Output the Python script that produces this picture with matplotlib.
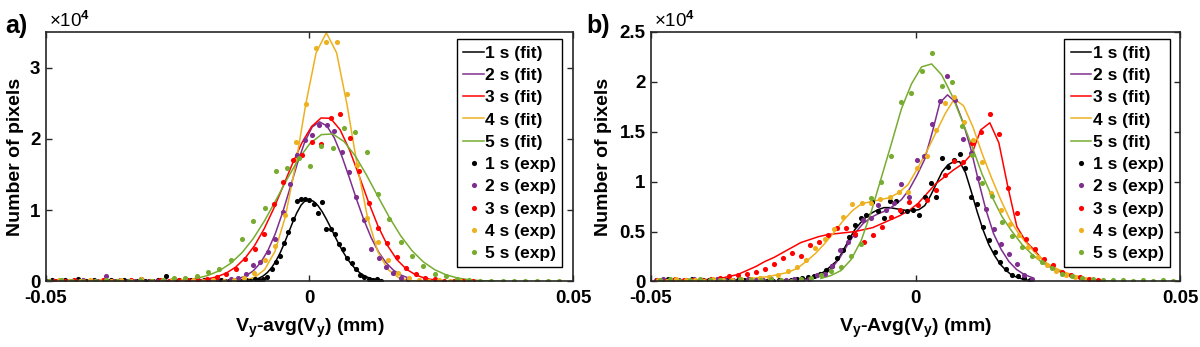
import numpy as np
import matplotlib
matplotlib.use('Agg')
import matplotlib.pyplot as plt
from matplotlib.ticker import FormatStrFormatter

plt.rcParams['font.family'] = ['Liberation Sans', 'DejaVu Sans']
plt.rcParams['font.weight'] = 'bold'
plt.rcParams['mathtext.fontset'] = 'custom'
plt.rcParams['mathtext.rm'] = 'Liberation Sans'
plt.rcParams['mathtext.bf'] = 'Liberation Sans:bold'
plt.rcParams['mathtext.it'] = 'Liberation Sans:italic'

# counts are in units of 1e4 pixels, bin centres in units of 1e-3 mm
times = ['1 s', '2 s', '3 s', '4 s', '5 s']
colors = ['#000000', '#7E2F8E', '#FF0000', '#EDB120', '#77AC30']

# ---- panel a) ----
a_step = [0.8, 1.4, 1.8, 1.95, 2.15]
a_exp_x0 = [-49.6, -48.5, -48.2, -49.45, -49.35]
a_fit_x0 = [-12.8, -19.1, -21.2, -14.35, -30.0]

a_black_exp = [0.01, 0.02, 0.01, 0.00, 0.02, 0.01, 0.01, 0.03, 0.01, 0.00,
               0.01, 0.02, 0.01, 0.01, 0.00, 0.02, 0.01, 0.01, 0.02, 0.00,
               0.01, 0.01, 0.03, 0.01, 0.00, 0.01, 0.02, 0.01, 0.07, 0.01,
               0.00, 0.02, 0.01, 0.01, 0.02, 0.00, 0.01, 0.02, 0.01, 0.00,
               0.01, 0.02, 0.01, 0.00, 0.02, 0.01,
               0.01, 0.02, 0.01, 0.03, 0.02, 0.04, 0.06, 0.18, 0.28, 0.36,
               0.54, 0.70, 0.88, 1.13, 1.16, 1.16, 1.15, 1.08, 0.96, 1.11,
               0.73, 0.73, 0.67, 0.52, 0.46, 0.33, 0.26, 0.18, 0.09, 0.06,
               0.04, 0.02, 0.03, 0.01]
a_black_fit = [0.003, 0.007, 0.014, 0.026, 0.046, 0.077, 0.125, 0.192, 0.283, 0.396,
               0.531, 0.679, 0.828, 0.964, 1.071, 1.135, 1.150, 1.123, 1.065, 0.981,
               0.875, 0.759, 0.637, 0.520, 0.412, 0.316, 0.236, 0.170, 0.119, 0.081,
               0.054, 0.034, 0.021, 0.013]

a_purple_exp = [0.01, 0.02, 0.00, 0.01, 0.02, 0.01, 0.01, 0.08, 0.01, 0.02,
                0.00, 0.01, 0.02, 0.01, 0.01, 0.00, 0.02, 0.01, 0.01, 0.02, 0.01,
                0.01, 0.02, 0.01, 0.03, 0.05, 0.10, 0.23, 0.28, 0.41, 0.59,
                0.98, 1.37, 1.78, 1.99, 2.05, 2.20, 2.19, 2.11, 1.82, 1.54,
                1.19, 0.86, 0.45, 0.33, 0.20, 0.12, 0.05, 0.03]
a_purple_fit = [0.001, 0.003, 0.008, 0.018, 0.038, 0.078, 0.147, 0.261, 0.432, 0.668,
                0.967, 1.308, 1.655, 1.958, 2.166, 2.240, 2.182, 2.016, 1.767, 1.470,
                1.159, 0.868, 0.616, 0.415, 0.265, 0.161, 0.092, 0.051]

a_red_exp = [0.01, 0.00, 0.02, 0.01, 0.01, 0.02, 0.00, 0.01, 0.02, 0.01,
             0.01, 0.02, 0.01, 0.02, 0.02,
             0.02, 0.04, 0.06, 0.10, 0.18, 0.32, 0.46, 0.66, 1.09, 1.40,
             1.71, 1.77, 1.95, 1.93, 2.30, 2.35, 2.01, 1.55, 1.10, 0.75,
             0.54, 0.35, 0.19, 0.10, 0.05, 0.03, 0.01,
             0.01, 0.00, 0.01]
a_red_fit = [0.017, 0.034, 0.065, 0.117, 0.202, 0.329, 0.505, 0.739, 1.021, 1.337,
             1.659, 1.951, 2.174, 2.294, 2.289, 2.130, 1.845, 1.486, 1.114, 0.778,
             0.505, 0.305, 0.172, 0.090, 0.044, 0.020, 0.008]

a_orange_exp = [0.01, 0.02, 0.01, 0.00, 0.02, 0.01, 0.01, 0.02, 0.01, 0.03,
                0.01, 0.00, 0.02, 0.01, 0.02, 0.01, 0.02, 0.01,
                0.02, 0.05, 0.12, 0.30, 0.50, 0.93, 1.96, 2.49, 3.27, 3.36,
                3.36, 2.63, 1.63, 0.89, 0.55, 0.30, 0.12, 0.05, 0.02,
                0.01, 0.02, 0.01, 0.00, 0.01]
a_orange_fit = [0.004, 0.016, 0.056, 0.167, 0.422, 0.903, 1.632, 2.489, 3.207, 3.490,
                3.207, 2.489, 1.632, 0.903, 0.422, 0.167, 0.056, 0.016, 0.004]

a_green_exp = [0.01, 0.02, 0.01, 0.01, 0.00, 0.02, 0.01, 0.01, 0.02,
               0.01, 0.02, 0.05, 0.05, 0.08, 0.14, 0.17, 0.30, 0.60, 0.85,
               1.03, 1.55, 1.59, 1.73, 1.62, 1.90, 1.87, 2.15, 2.10, 1.81,
               1.23, 0.88, 0.55, 0.36, 0.22, 0.11, 0.07, 0.03, 0.02, 0.01,
               0.01, 0.00,
               0.01, 0.00, 0.01, 0.01, 0.00]
a_green_fit = [0.002, 0.005, 0.011, 0.023, 0.045, 0.085, 0.151, 0.255, 0.404, 0.604,
               0.855, 1.143, 1.443, 1.720, 1.937, 2.060, 2.070, 1.964, 1.760, 1.490,
               1.191, 0.900, 0.642, 0.432, 0.275, 0.166, 0.094, 0.050, 0.025, 0.012,
               0.005, 0.002]

# ---- panel b) ----
b_step = [1.1, 1.45, 1.7, 1.75, 1.9]
b_exp_x0 = [-48.9, -49.1, -48.9, -48.7, -48.3]
b_fit_x0 = [-26.9, -23.0, -48.9, -32.95, -17.9]

b_black_exp = [0.01, 0.00, 0.02, 0.01, 0.00, 0.01, 0.02, 0.00, 0.01, 0.01,
               0.00, 0.02, 0.01, 0.00, 0.01, 0.01, 0.02, 0.00, 0.01, 0.00,
               0.00, 0.01, 0.00, 0.01, 0.02, 0.03, 0.04, 0.05, 0.08, 0.12,
               0.16, 0.24, 0.32, 0.45, 0.57, 0.64, 0.67, 0.80, 0.71, 0.64,
               0.81, 0.81, 0.71, 0.71, 0.72, 0.67, 0.85, 0.99, 0.85, 1.24,
               1.15, 1.22, 1.28, 1.14, 0.85, 0.78, 0.55, 0.42, 0.30, 0.20,
               0.13, 0.07, 0.05, 0.03, 0.01]
b_black_fit = [0.00, 0.00, 0.00, 0.01, 0.01, 0.02, 0.03, 0.05, 0.07, 0.11,
               0.16, 0.21, 0.31, 0.42, 0.52, 0.59, 0.65, 0.69, 0.72, 0.74,
               0.74, 0.73, 0.72, 0.71, 0.71, 0.72, 0.76, 0.86, 0.98, 1.10,
               1.17, 1.20, 1.20, 1.09, 0.90, 0.70, 0.52, 0.37, 0.26, 0.17,
               0.11, 0.06, 0.04, 0.02, 0.01]

b_purple_exp = [0.01, 0.02, 0.00, 0.01, 0.01, 0.02, 0.01, 0.00, 0.02, 0.01,
                0.01, 0.00, 0.02, 0.01, 0.01, 0.02, 0.00, 0.01,
                0.02, 0.01, 0.02, 0.06, 0.08, 0.16, 0.32, 0.40, 0.47, 0.62,
                0.64, 0.77, 0.72, 0.79, 0.98, 0.85, 1.22, 1.26, 1.58, 1.81,
                2.06, 1.82, 1.43, 1.29, 1.04, 0.73, 0.53, 0.38, 0.28, 0.18,
                0.06, 0.02]
b_purple_fit = [0.00, 0.01, 0.02, 0.04, 0.08, 0.14, 0.24, 0.37, 0.49, 0.58,
                0.64, 0.68, 0.71, 0.76, 0.82, 0.92, 1.06, 1.22, 1.49, 1.79,
                1.87, 1.80, 1.60, 1.34, 1.02, 0.72, 0.48, 0.32, 0.20, 0.12,
                0.07, 0.04]

b_red_exp = [0.01, 0.00, 0.02, 0.01, 0.01, 0.01, 0.02, 0.03, 0.05, 0.07,
             0.08, 0.10, 0.13, 0.18, 0.24, 0.29, 0.26, 0.37, 0.40, 0.47,
             0.54, 0.54, 0.48, 0.40, 0.47, 0.55, 0.65, 0.72, 0.80, 0.77,
             0.82, 0.92, 1.07, 1.21, 1.20, 1.39, 1.50, 1.68, 1.48, 0.94,
             0.69, 0.43, 0.33, 0.23, 0.17, 0.10, 0.06, 0.04, 0.02, 0.01]
b_red_fit = [0.00, 0.00, 0.01, 0.01, 0.01, 0.02, 0.02, 0.03, 0.05, 0.07,
             0.11, 0.15, 0.20, 0.24, 0.29, 0.34, 0.39, 0.42, 0.45, 0.47,
             0.48, 0.49, 0.50, 0.52, 0.54, 0.58, 0.62, 0.66, 0.71, 0.78,
             0.88, 0.98, 1.05, 1.12, 1.18, 1.28, 1.52, 1.59, 1.39, 0.95,
             0.55, 0.40, 0.31, 0.20, 0.14, 0.09, 0.06, 0.03, 0.02, 0.01]

b_orange_exp = [0.01, 0.00, 0.02, 0.01, 0.01, 0.00, 0.02, 0.01, 0.01,
                0.02, 0.02, 0.03, 0.04, 0.06, 0.11, 0.15, 0.22, 0.34, 0.43,
                0.53, 0.65, 0.78, 0.79, 0.79, 0.83, 0.85, 0.90, 0.90, 1.14,
                1.26, 1.52, 1.79, 1.85, 1.60, 1.42, 1.20, 0.89, 0.72, 0.58,
                0.47, 0.35, 0.25, 0.17, 0.11, 0.07, 0.04, 0.02, 0.01]
b_orange_fit = [0.02, 0.03, 0.04, 0.05, 0.07, 0.09, 0.13, 0.20, 0.28, 0.38,
                0.49, 0.61, 0.71, 0.78, 0.80, 0.82, 0.84, 0.89, 0.97, 1.13,
                1.30, 1.49, 1.68, 1.83, 1.76, 1.55, 1.28, 1.04, 0.82, 0.62,
                0.47, 0.36, 0.26, 0.18, 0.13, 0.09, 0.06, 0.04, 0.02]

b_green_exp = [0.01, 0.02, 0.00, 0.01, 0.02, 0.01, 0.01, 0.00, 0.02, 0.01,
               0.01, 0.02, 0.01, 0.00, 0.02, 0.03,
               0.06, 0.11, 0.15, 0.26, 0.38, 0.84, 1.00, 1.26, 1.80, 1.89,
               2.11, 2.29, 1.96, 2.00, 1.56, 1.27, 0.99, 0.86, 0.60, 0.46,
               0.35, 0.26, 0.20, 0.14, 0.08, 0.05, 0.03, 0.02, 0.01, 0.01,
               0.01, 0.00, 0.01, 0.00, 0.01, 0.00]
b_green_fit = [0.03, 0.06, 0.11, 0.22, 0.41, 0.70, 1.04, 1.38, 1.73, 1.98,
               2.15, 2.18, 2.07, 1.87, 1.62, 1.36, 1.08, 0.85, 0.65, 0.50,
               0.37, 0.27, 0.19, 0.13, 0.09, 0.05, 0.03, 0.02, 0.01, 0.00]

a_exp = [a_black_exp, a_purple_exp, a_red_exp, a_orange_exp, a_green_exp]
a_fit = [a_black_fit, a_purple_fit, a_red_fit, a_orange_fit, a_green_fit]
b_exp = [b_black_exp, b_purple_exp, b_red_exp, b_orange_exp, b_green_exp]
b_fit = [b_black_fit, b_purple_fit, b_red_fit, b_orange_fit, b_green_fit]


def bins(x0, dx, vals):
    # bin centres in mm
    return (x0 + dx * np.arange(len(vals))) / 1000.0


fig = plt.figure(figsize=(12, 3.47), dpi=100)
ax_a = fig.add_axes([0.0383, 0.1888, 0.4392, 0.719])
ax_b = fig.add_axes([0.5425, 0.1888, 0.4412, 0.719])

panels = [
    (ax_a, a_step, a_exp_x0, a_fit_x0, a_exp, a_fit, 3.5, [0, 1, 2, 3],
     'V$_\\mathbf{y}$-avg(V$_\\mathbf{y}$) (mm)', -0.0417),
    (ax_b, b_step, b_exp_x0, b_fit_x0, b_exp, b_fit, 2.5, [0, 0.5, 1, 1.5, 2, 2.5],
     'V$_\\mathbf{y}$-Avg(V$_\\mathbf{y}$) (mm)', -0.073),
]

for ax, step, ex0, fx0, exp, fit, ytop, yt, xlab, ylx in panels:
    for i in range(5):
        ax.plot(bins(fx0[i], step[i], fit[i]), fit[i], '-', color=colors[i],
                lw=1.1, label=times[i] + ' (fit)')
    for i in range(5):
        ax.plot(bins(ex0[i], step[i], exp[i]), exp[i], 'o', color=colors[i],
                ms=3.7, mec='none', label=times[i] + ' (exp)')

    ax.set_xlim(-0.05, 0.05)
    ax.set_ylim(0, ytop)
    ax.set_xticks([-0.05, 0, 0.05])
    ax.set_yticks(yt)
    ax.xaxis.set_major_formatter(FormatStrFormatter('%g'))
    ax.yaxis.set_major_formatter(FormatStrFormatter('%g'))
    ax.tick_params(direction='in', top=True, right=True, length=4, width=1,
                   labelsize=13.5, color='#262626')
    ax.tick_params(axis='x', pad=6)
    ax.tick_params(axis='y', pad=4)
    for s in ax.spines.values():
        s.set_linewidth(1.2)
        s.set_color('#262626')

    ax.set_xlabel(xlab, fontsize=14, fontweight='bold')
    ax.xaxis.set_label_coords(0.5, -0.14)
    ax.set_ylabel('Number of pixels', fontsize=14, fontweight='bold')
    ax.yaxis.set_label_coords(ylx, 0.5)

    ax.text(0.005, 1.02, '\u00d710$^{4}$', transform=ax.transAxes,
            fontsize=13.5, fontweight='normal', va='baseline')

    leg = ax.legend(loc='upper right', bbox_to_anchor=(0.98, 0.97),
                    fontsize=12.5, fancybox=False, framealpha=1, edgecolor='black',
                    borderpad=0.35, labelspacing=0.41, handlelength=1.2,
                    handletextpad=0.08, borderaxespad=0)
    leg.get_frame().set_linewidth(1.0)

fig.text(0.004, 0.905, 'a)', fontsize=18, fontweight='bold', va='baseline')
fig.text(0.489, 0.905, 'b)', fontsize=18, fontweight='bold', va='baseline')

fig.savefig('out.png', dpi=100)
